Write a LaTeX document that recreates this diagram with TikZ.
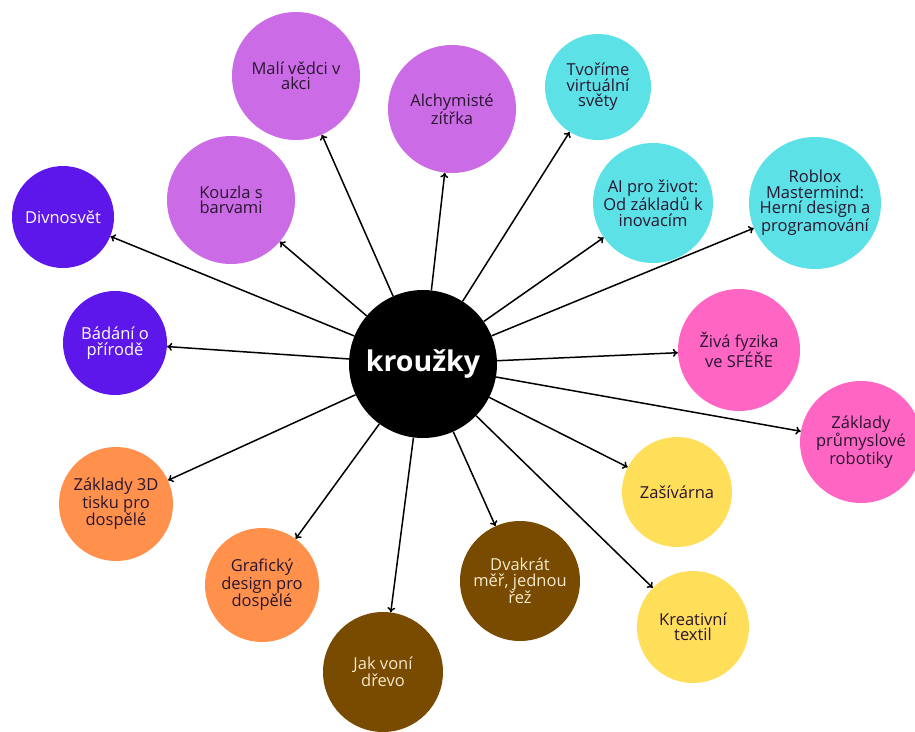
\documentclass[tikz,border=0pt]{standalone}
\usepackage{fontspec}
\setmainfont{Open Sans}
\usetikzlibrary{arrows.meta}
\definecolor{lila}{HTML}{CB6CE6}
\definecolor{fialova}{HTML}{5E17EB}
\definecolor{tyrkys}{HTML}{5CE1E6}
\definecolor{ruzova}{HTML}{FF66C4}
\definecolor{zluta}{HTML}{FFDE59}
\definecolor{oranzova}{HTML}{FF914D}
\definecolor{hneda}{HTML}{784B00}
\definecolor{krem}{HTML}{F6E8CC}
\definecolor{tmava}{HTML}{2A1530}

\begin{document}
\begin{tikzpicture}[x=1pt, y=-1pt,
    kruh/.style={circle, inner sep=0pt, align=center, text=tmava,
      font=\fontsize{16.5}{15.5}\selectfont},
    sipka/.style={-{To[length=5pt, width=8pt]}, line width=1.5pt}]
  \useasboundingbox (0,0) rectangle (915,731);

  \node [kruh, fill=black, text=white, minimum size=148pt, font=\fontsize{28.5}{30}\selectfont\bfseries] (krouzky) at (423,364) {kroužky};

  \node [kruh, fill=fialova, text=white, minimum size=102pt] (divnosvet) at (63,217) {Divnosvět};
  \node [kruh, fill=fialova, text=white, minimum size=104pt] (badani) at (115,343) {Bádání o\\přírodě};
  \node [kruh, fill=lila, minimum size=128pt] (kouzla) at (231,200) {Kouzla s\\barvami};
  \node [kruh, fill=lila, minimum size=128pt] (vedci) at (296,76) {Malí vědci v\\akci};
  \node [kruh, fill=lila, minimum size=128pt] (alchymiste) at (452,109) {Alchymisté\\zítřka};
  \node [kruh, fill=tyrkys, minimum size=106pt] (svety) at (598,87) {Tvoříme\\virtuální\\světy};
  \node [kruh, fill=tyrkys, minimum size=120pt] (ai) at (653,203) {AI pro život:\\Od základů k\\inovacím};
  \node [kruh, fill=tyrkys, minimum size=132pt] (roblox) at (815,203) {Roblox\\Mastermind:\\Herní design a\\programování};
  \node [kruh, fill=ruzova, minimum size=122pt] (fyzika) at (739,350) {Živá fyzika\\ve SFÉŘE};
  \node [kruh, fill=ruzova, minimum size=122pt] (robotika) at (861,442) {Základy\\průmyslové\\robotiky};
  \node [kruh, fill=zluta, minimum size=110pt] (zasivarna) at (677,492) {Zašívárna};
  \node [kruh, fill=zluta, minimum size=112pt] (textil) at (693,627) {Kreativní\\textil};
  \node [kruh, fill=hneda, text=krem, minimum size=120pt] (dvakrat) at (520,581) {Dvakrát\\měř, jednou\\řež};
  \node [kruh, fill=hneda, text=krem, minimum size=120pt] (drevo) at (383,672) {Jak voní\\dřevo};
  \node [kruh, fill=oranzova, minimum size=114pt] (grafika) at (262,585) {Grafický\\design pro\\dospělé};
  \node [kruh, fill=oranzova, minimum size=114pt] (tisk) at (116,504) {Základy 3D\\tisku pro\\dospělé};

  \foreach \cil in {divnosvet, badani, kouzla, vedci, alchymiste, svety, ai, roblox, fyzika, robotika, zasivarna, textil, dvakrat, drevo, grafika, tisk}
    \draw [sipka] (krouzky) -- (\cil);
\end{tikzpicture}
\end{document}
